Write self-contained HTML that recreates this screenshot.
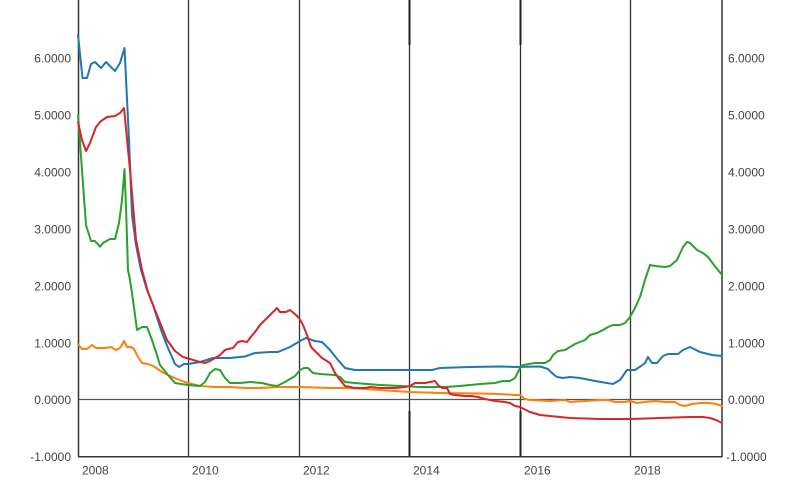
<!DOCTYPE html>
<html>
<head>
<meta charset="utf-8">
<style>
  html,body{margin:0;padding:0;background:#fff;}
  svg{display:block;}
  text{font-family:"Liberation Sans",Arial,sans-serif;font-size:12px;fill:#444;}
</style>
</head>
<body>
<svg width="800" height="486" viewBox="0 0 800 486" xmlns="http://www.w3.org/2000/svg">
  <rect x="0" y="0" width="800" height="486" fill="#fff"/>
  <!-- vertical gridlines -->
  <g stroke="#333" stroke-width="1.3">
    <line x1="188.5" y1="0" x2="188.5" y2="457"/>
    <line x1="299.5" y1="0" x2="299.5" y2="457"/>
    <line x1="409.5" y1="0" x2="409.5" y2="457"/>
    <line x1="520.5" y1="0" x2="520.5" y2="457"/>
    <line x1="630.5" y1="0" x2="630.5" y2="457"/>
  </g>
  <g stroke="#222" stroke-width="2">
    <line x1="409.5" y1="0" x2="409.5" y2="45"/>
    <line x1="409.5" y1="411" x2="409.5" y2="457"/>
    <line x1="520.5" y1="0" x2="520.5" y2="45"/>
    <line x1="520.5" y1="411" x2="520.5" y2="457"/>
  </g>
  <!-- zero line -->
  <line x1="78" y1="399.5" x2="722" y2="399.5" stroke="#555" stroke-width="1.3"/>
  <!-- axes -->
  <g stroke="#333" stroke-width="1.5" fill="none">
    <line x1="78.5" y1="0" x2="78.5" y2="457"/>
    <line x1="722" y1="0" x2="722" y2="457"/>
    <line x1="78" y1="456.7" x2="722" y2="456.7"/>
  </g>

  <!-- series -->
  <g fill="none" stroke-width="2" stroke-linejoin="round" stroke-linecap="round">
    <polyline stroke="#1f77b4" points="78,35 82.5,78 87,78 91,64 95,62 101,68 106,62 115,71 120,63 124.5,48 129,140 132,215 136,245 141,270 147,290 153,305 161,330 168,348 175,364 179,367 184,364 188,364 200,362 213,358 230,358 245,356.5 255,353 270,352 278,352 290,347 300,341 306,338 315,341 322,342 330,350 338,360 345,368 355,370 380,370 410,370 432,370 440,368 470,367 500,366.5 515,367 540,366.5 548,369 553,374 557,377 563,378 570,377 580,378 595,381 607,383 613,384 620,380 627,370 635,370 641,366 645,363 648,357 652,363 657,363 663,356 668,354 678,354 683,350 690,347 700,352 712,355 722,356"/>
    <polyline stroke="#ff7f0e" points="78,344 82,349 87,349 92,345 96,348 105,348 111,347 116,350 120,348 124,341 127,347 131,347 134,349 138,357 142,363 148,364 155,367 162,372 170,376 177,379 185,382 192,384 200,386 215,387 230,387 245,388 260,388 280,387 300,387 330,388 350,388 380,390 410,392 440,393 480,393.5 500,394 515,395 520,395 525,399 530,400 550,401 565,400 570,402 600,400 608,400 615,402 625,402 630,401 637,403 645,402 655,401 665,402 675,402 680,405 685,406 692,404 700,403 710,403 716,404 722,406"/>
    <polyline stroke="#2ca02c" points="78,115 82,170 86,225 91,241 95,241 100,246.7 103,243 110,239 115,239 119,223 122,200 124.5,169 126,207 128,270 130,280 133,300 137,330 142,327 147,327 152,340 156,352 160,365 168,375 175,383 188,385 200,386 205,382 210,373 215,369 220,370 225,378 230,383 240,383 250,382 262,383 270,385 277,386 285,382 295,376 300,370 304,368 308,368 313,373 320,374 335,375 340,377 345,382 355,383 380,385 400,386 420,387 445,387 460,386 480,384 495,383 503,381 510,381 515,378 520,368 523,365 535,363 545,363 550,360 553,355 558,351 565,350 570,347 575,344 580,342 585,340 590,335 597,333 603,330 608,327 613,325 620,325 625,323 630,317 635,308 640,297 645,280 650,265 655,266 665,267 670,266 677,260 683,247 687,242 690,243 697,250 703,253 708,257 714,265 722,275"/>
    <polyline stroke="#d62728" points="78,122 82,140 86,151 90,143 96,127 101,121 107,117 115,116 120,113 124,108 130,170 136,240 142,270 148,292 155,310 161,325 167,340 175,351 183,357 190,359 200,362 205,363 210,361 215,358 220,355 225,350 228,349 233,348 238,342 242,341 247,342 250,338 255,332 260,325 267,318 272,313 277,308 280,312 286,312 290,310 296,315 299,318 303,325 307,335 311,347 316,352 322,358 330,363 335,373 340,380 345,386 355,388 365,388 370,387 380,388 395,388 405,387 410,386 415,383 425,383 430,382 435,381 438,385 442,388 447,388 450,394 455,395 465,396 472,396 478,397 485,399 495,401 505,402 510,403 515,406 520,407 530,412 540,415 550,416 560,417 570,418 600,419 630,419 660,418 690,417 703,417 710,418 716,420 722,423"/>
  </g>

  <!-- left tick labels -->
  <g text-anchor="end">
    <text x="71" y="62.5">6.0000</text>
    <text x="71" y="119.5">5.0000</text>
    <text x="71" y="176.5">4.0000</text>
    <text x="71" y="233.5">3.0000</text>
    <text x="71" y="290.5">2.0000</text>
    <text x="71" y="347.5">1.0000</text>
    <text x="71" y="404">0.0000</text>
    <text x="71" y="461">-1.0000</text>
  </g>
  <!-- right tick labels -->
  <g text-anchor="start">
    <text x="728" y="62.5">6.0000</text>
    <text x="728" y="119.5">5.0000</text>
    <text x="728" y="176.5">4.0000</text>
    <text x="728" y="233.5">3.0000</text>
    <text x="728" y="290.5">2.0000</text>
    <text x="728" y="347.5">1.0000</text>
    <text x="728" y="404">0.0000</text>
    <text x="726" y="461">-1.0000</text>
  </g>
  <!-- x labels -->
  <g text-anchor="start">
    <text x="82" y="474.5">2008</text>
    <text x="192" y="474.5">2010</text>
    <text x="303" y="474.5">2012</text>
    <text x="413" y="474.5">2014</text>
    <text x="524" y="474.5">2016</text>
    <text x="634" y="474.5">2018</text>
  </g>
</svg>
</body>
</html>
